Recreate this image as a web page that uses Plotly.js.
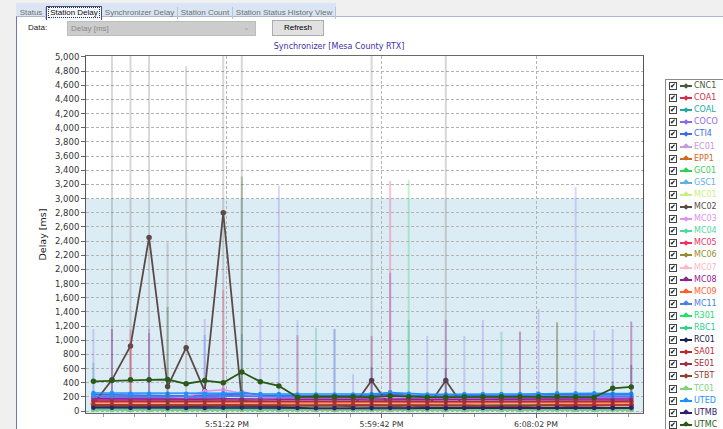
<!DOCTYPE html>
<html><head><meta charset="utf-8">
<script src="https://cdn.plot.ly/plotly-3.0.1.min.js"></script>
<style>
html,body{margin:0;padding:0;width:723px;height:429px;overflow:hidden;background:#f0f0f0;font-family:"Liberation Sans",Arial,sans-serif;}
#panel{position:absolute;left:16px;top:16px;width:707px;height:413px;background:#fff;border-left:1px solid #7474c4;border-top:1px solid #a9b6d6;box-sizing:border-box;}
#tabs{position:absolute;left:16px;top:3px;width:320px;height:13px;background:#dae5f3;}
.tab{position:absolute;top:4px;height:12px;line-height:12px;font-size:8px;color:#707070;text-align:center;box-sizing:border-box;border-right:1px solid #b8c4d8;white-space:nowrap;}
.tab.sel{color:#111;background:#f4f7fb;border:1px solid #4a4a8a;border-bottom:none;top:3px;height:14px;line-height:12px;}
.tab.sel span{outline:1px dotted #333;outline-offset:0px;padding:0 1px;}
#datalbl{position:absolute;left:28px;top:23px;font-size:8px;color:#222;}
#combo{position:absolute;left:67px;top:21px;width:189px;height:15px;background:#cccccc;border:1px solid #bdbdbd;box-sizing:border-box;font-size:8px;color:#8a8a8a;line-height:13px;padding-left:3px;}
#combo i{position:absolute;right:5px;top:-1px;font-style:normal;color:#a8a8a8;font-size:8px;}
#btn{position:absolute;left:272px;top:20px;width:52px;height:16px;background:#e1e1e1;border:1px solid #adadad;box-sizing:border-box;font-size:8px;color:#000;text-align:center;line-height:14px;}
#plot{position:absolute;left:0;top:0;width:723px;height:429px;}
#legend{position:absolute;left:665px;top:79px;width:70px;height:360px;background:#fff;border:1px solid #8a8a8a;box-sizing:border-box;overflow:hidden;}
.li{position:absolute;left:0;height:12px;width:70px;}
.cb{position:absolute;left:3px;top:2px;width:8px;height:8px;border:1px solid #444;box-sizing:border-box;background:#fff;font-family:"DejaVu Sans";font-size:7px;line-height:6px;color:#000;text-align:center;}
.ln{position:absolute;left:14px;top:5px;width:12px;height:2px;}
.mk{position:absolute;left:18px;top:3.5px;width:4px;height:4px;transform:rotate(45deg);}
.tx{position:absolute;left:28px;top:0;font-family:"DejaVu Sans";font-size:8px;line-height:12px;white-space:nowrap;}
</style>
</head><body>
<div id="panel"></div>
<div id="tabs"></div>
<div id="datalbl">Data:</div>
<div id="combo">Delay [ms]<i>&#8964;</i></div>
<div id="btn">Refresh</div>
<div id="plot"></div>
<div id="legend"></div>
<script>
// ---- UI text ----
const tabNames = ['Status','Station Delay','Synchronizer Delay','Station Count','Station Status History View'];
const chartTitle = 'Synchronizer [Mesa County RTX]';
const yTitle = 'Delay [ms]';
const warnLevel = 3000;

// ---- sample times (one per minute) ----
const times = ['2024-05-14 17:44:10','2024-05-14 17:45:10','2024-05-14 17:46:10','2024-05-14 17:47:10','2024-05-14 17:48:10',
 '2024-05-14 17:49:10','2024-05-14 17:50:10','2024-05-14 17:51:10','2024-05-14 17:52:10','2024-05-14 17:53:10',
 '2024-05-14 17:54:10','2024-05-14 17:55:10','2024-05-14 17:56:10','2024-05-14 17:57:10','2024-05-14 17:58:10',
 '2024-05-14 17:59:10','2024-05-14 18:00:10','2024-05-14 18:01:10','2024-05-14 18:02:10','2024-05-14 18:03:10',
 '2024-05-14 18:04:10','2024-05-14 18:05:10','2024-05-14 18:06:10','2024-05-14 18:07:10','2024-05-14 18:08:10',
 '2024-05-14 18:09:10','2024-05-14 18:10:10','2024-05-14 18:11:10','2024-05-14 18:12:10','2024-05-14 18:13:10'];

// ---- station names and colours (legend order) ----
const stations = ['CNC1','COA1','COAL','COCO','CTI4','EC01','EPP1','GC01','GSC1','MC01','MC02','MC03','MC04','MC05','MC06','MC07','MC08','MC09','MC11','R301','RBC1','RC01','SA01','SE01','STBT','TC01','UTED','UTMB','UTMC'];
const colors = ['#4a5a3a','#d0304a','#20a8a0','#8a6ae8','#3a6ee0','#c898e0','#d06820','#30d050','#60b0e0','#c8f080','#5a4a48','#e090f0','#50d8a0','#f03060','#909030','#ffb8c4','#902090','#ff6030','#4a80e8','#20e070','#30d090','#1a2050','#c02830','#a03040','#904030','#80d080','#1e90ff','#302070','#2a5a18'];

// ---- mean delay per minute [ms] ----
const vCNC1=[62,60,58,60,62,60,58,60,62,60,58,56,55,56,58,60,58,56,55,56,58,60,58,56,58,60,58,56,58,60];
const vCOA1=[98,96,95,97,95,94,96,98,97,95,93,92,94,95,93,96,98,95,93,92,94,95,96,94,95,97,96,94,95,96];
const vCOAL=[52,50,50,52,54,52,50,50,52,50,48,48,50,50,52,50,48,50,52,50,48,50,52,50,50,52,50,48,50,52];
const vCOCO=[192,190,188,190,185,186,190,200,270,215,195,190,188,186,188,200,265,205,190,188,190,192,194,195,196,198,200,196,195,196];
const vCTI4=[232,228,222,222,218,216,224,228,230,222,216,214,212,214,216,224,232,220,212,210,214,220,222,224,226,230,234,230,226,230];
const vEC01=[152,150,150,148,150,152,150,155,160,152,150,148,146,148,150,152,158,150,148,146,148,150,152,150,152,155,155,152,150,152];
const vEPP1=[118,116,115,116,114,112,115,118,120,116,114,112,112,114,113,115,118,116,112,110,112,114,115,114,115,116,114,112,108,110];
const vGC01=[24,22,22,23,22,20,22,24,25,22,21,20,20,21,22,22,24,22,20,20,21,22,22,21,22,23,22,20,21,22];
const vGSC1=[72,70,70,72,70,68,70,74,75,72,70,68,66,68,70,72,74,70,68,66,68,70,72,70,70,72,72,70,70,72];
const vMC01=[66,65,64,65,64,62,64,66,68,65,64,62,62,64,64,65,66,64,62,62,63,64,65,64,64,66,65,64,64,65];
const vMC02=[100,440,920,2450,345,895,280,2800,150,105,95,90,88,85,60,430,60,85,50,430,50,80,85,86,90,85,88,85,90,92];
const vMC03=[170,170,165,165,170,200,280,300,255,200,180,175,175,170,170,185,195,180,170,170,175,175,175,175,180,180,180,175,175,175];
const vMC04=[36,35,34,35,34,33,35,36,38,35,34,32,32,33,34,35,36,34,32,32,33,34,35,34,34,36,35,34,34,35];
const vMC05=[132,130,128,130,128,126,130,132,135,130,128,126,125,126,128,130,134,130,126,125,126,128,130,128,130,132,130,128,128,130];
const vMC06=[102,100,98,100,98,96,100,102,104,100,98,96,96,98,98,100,102,100,96,95,96,98,100,98,100,102,100,98,98,100];
const vMC07=[112,110,108,110,108,106,110,112,114,110,108,106,105,106,108,110,112,110,106,105,106,108,110,108,110,112,110,108,108,110];
const vMC08=[172,170,168,170,166,164,168,172,175,170,166,164,162,164,166,170,174,168,164,162,164,166,168,168,170,172,172,170,168,170];
const vMC09=[122,120,118,120,118,116,120,122,124,120,118,116,115,116,118,120,122,120,116,115,116,118,120,118,120,122,120,118,118,120];
const vMC11=[208,206,204,205,202,200,204,208,212,206,202,200,198,200,202,206,212,204,198,196,200,204,206,206,208,212,214,210,206,208];
const vR301=[18,17,16,17,16,15,17,18,19,17,16,15,15,16,16,17,18,16,15,15,16,16,17,16,17,18,17,16,16,17];
const vRBC1=[28,27,26,27,26,25,27,28,30,27,26,25,25,26,26,27,28,26,25,25,26,26,27,26,27,28,27,26,26,27];
const vRC01=[70,68,66,68,66,64,68,70,72,66,60,50,26,24,25,26,24,25,40,42,40,42,40,38,40,42,40,38,40,42];
const vSA01=[88,86,85,86,84,82,85,88,90,86,84,82,80,82,84,86,88,85,82,80,82,70,60,62,80,84,86,84,84,86];
const vSE01=[142,140,138,140,138,136,140,142,145,140,138,136,135,136,138,140,142,140,136,135,136,138,140,138,140,142,140,138,138,140];
const vSTBT=[78,76,75,76,74,72,75,78,80,76,74,72,72,74,74,76,78,75,72,70,72,74,75,74,75,76,60,50,48,50];
const vTC01=[15,14,14,15,14,13,14,15,16,14,14,13,13,14,14,15,16,14,13,13,14,14,15,14,14,15,15,14,14,15];
const vUTED=[255,255,245,245,245,245,245,250,250,240,240,235,235,235,235,240,260,245,235,235,240,240,240,240,245,250,250,250,245,245];
const vUTMB=[46,45,44,45,44,42,44,46,48,45,44,42,40,40,40,42,44,42,40,40,42,44,45,44,44,46,45,44,44,45];
const vUTMC=[420,430,440,440,445,385,430,400,550,415,355,195,205,200,200,195,215,200,195,195,200,200,200,200,200,205,200,195,320,340];

// ---- maximum delay per minute [ms] (null = no visible spike) ----
const n=null;
const hMC02=[n,5200,5200,5200,2380,4870,n,5200,5200,n,n,n,n,n,n,5200,n,n,n,5200,n,n,n,n,n,n,n,n,n,n];
const hUTMC=[n,n,n,n,1470,n,n,n,3310,n,n,n,n,n,n,n,n,n,n,n,n,n,n,n,n,n,n,n,n,n];
const hCOCO=[1160,1160,n,1160,n,n,1300,n,n,1300,3180,1285,n,1160,520,n,n,n,1060,n,1060,1285,n,1120,1440,n,3164,1144,1158,1264];
const hMC08=[n,1160,n,1100,n,n,n,n,n,n,n,n,n,n,n,1060,1953,n,n,1285,n,n,n,n,n,n,n,n,n,n];
const hMC05=[n,n,1150,n,n,n,n,1709,n,n,n,n,n,n,n,n,3250,n,n,n,n,n,n,n,n,n,n,n,n,n];
const hSE01=[n,n,925,n,n,n,n,n,n,n,n,1070,n,n,n,n,n,n,n,n,n,n,n,1120,n,1252,n,n,n,1264];
const hCOAL=[680,n,n,n,n,n,n,n,n,n,n,n,1177,n,n,n,n,1285,n,n,n,n,1120,n,n,n,n,n,n,n];
const hGC01=[n,n,n,n,n,n,n,n,n,n,n,n,n,n,n,n,n,3260,n,n,n,n,n,n,n,1252,n,n,n,n];
const hCTI4=[n,n,n,n,n,n,1074,n,1088,n,n,n,n,1158,n,n,n,n,n,n,n,n,n,n,n,n,n,n,n,n];
const hUTMB=[n,n,n,n,n,n,n,n,n,n,n,n,n,n,n,620,n,n,n,600,n,n,n,n,n,n,n,n,420,650];

const values={CNC1:vCNC1,COA1:vCOA1,COAL:vCOAL,COCO:vCOCO,CTI4:vCTI4,EC01:vEC01,EPP1:vEPP1,GC01:vGC01,GSC1:vGSC1,MC01:vMC01,MC02:vMC02,MC03:vMC03,MC04:vMC04,MC05:vMC05,MC06:vMC06,MC07:vMC07,MC08:vMC08,MC09:vMC09,MC11:vMC11,R301:vR301,RBC1:vRBC1,RC01:vRC01,SA01:vSA01,SE01:vSE01,STBT:vSTBT,TC01:vTC01,UTED:vUTED,UTMB:vUTMB,UTMC:vUTMC};
const highs={MC02:hMC02,UTMC:hUTMC,COCO:hCOCO,MC08:hMC08,MC05:hMC05,SE01:hSE01,COAL:hCOAL,GC01:hGC01,CTI4:hCTI4,UTMB:hUTMB};

function rgba(hex,a){const r=parseInt(hex.slice(1,3),16),g=parseInt(hex.slice(3,5),16),b=parseInt(hex.slice(5,7),16);return `rgba(${r},${g},${b},${a})`;}

// tabs
const tabPos=[[17,29],[46,56],[102,76],[178,55],[233,103]];
const tabsEl=document.getElementById('tabs');
tabNames.forEach((t,i)=>{const d=document.createElement('div');d.className='tab'+(i===1?' sel':'');d.style.left=(tabPos[i][0]-16)+'px';d.style.width=tabPos[i][1]+'px';d.innerHTML='<span>'+t+'</span>';tabsEl.appendChild(d);});

// traces
const traces=[];
stations.forEach((s,i)=>{
  const y=values[s];const hi=highs[s];
  const tr={x:times,y:y,type:'scatter',mode:'lines+markers',name:s,
    line:{color:colors[i],width:s==='UTMC'||s==='MC02'?1.8:1.6},
    marker:{color:colors[i],size:s==='UTMC'||s==='MC02'?5.5:4.5}};
  if(hi){
    tr.error_y={type:'data',symmetric:false,array:hi.map((h,k)=>h==null?0:h-y[k]),arrayminus:hi.map((h,k)=>h==null?0:y[k]),
      color:rgba(colors[i],s==='MC02'?0.22:0.28),thickness:2,width:0};
  }
  traces.push(tr);
});

const tick0='2024-05-14 17:51:22';
const layout={
  width:723,height:429,margin:{l:86,r:80,t:56,b:16,pad:0},
  paper_bgcolor:'rgba(0,0,0,0)',plot_bgcolor:'#ffffff',showlegend:false,
  title:{text:chartTitle,font:{family:'DejaVu Sans',size:8,color:'#4030a8'},x:0.469,xref:'container',xanchor:'center',y:1-46/429,yref:'container',yanchor:'middle'},
  xaxis:{type:'date',range:['2024-05-14 17:43:46','2024-05-14 18:13:48'],tick0:tick0,dtick:500000,tickformat:'%-I:%M:%S %p',
    ticks:'outside',ticklen:4,tickcolor:'#666',showgrid:true,gridcolor:'#b4b4b4',griddash:'3px,2px',gridwidth:1,
    showline:true,linecolor:'#6a6a6a',mirror:true,zeroline:false,tickfont:{family:'DejaVu Sans',size:7.8,color:'#333'},
    minor:{tick0:tick0,dtick:100000,ticks:'outside',ticklen:3,tickcolor:'#999',showgrid:false}},
  yaxis:{range:[-28,5014],tick0:0,dtick:200,tickformat:',d',ticks:'outside',ticklen:4,tickcolor:'#666',
    showgrid:true,gridcolor:'#b4b4b4',griddash:'3px,2px',gridwidth:1,showline:true,linecolor:'#555',mirror:true,zeroline:false,
    tickfont:{family:'DejaVu Sans',size:8.5,color:'#333'},
    title:{text:yTitle,font:{family:'DejaVu Sans',size:9.5,color:'#222'},standoff:6}},
  shapes:[{type:'rect',xref:'paper',x0:0,x1:1,yref:'y',y0:-28,y1:warnLevel,fillcolor:'#dcecf4',line:{width:0},layer:'below'}]
};
Plotly.newPlot('plot',traces,layout,{staticPlot:true,displayModeBar:false});

// legend
const lg=document.getElementById('legend');
stations.forEach((s,i)=>{
  const d=document.createElement('div');d.className='li';d.style.top=(12.1*i)+'px';
  d.innerHTML=`<div class="cb">&#10004;</div><div class="ln" style="background:${colors[i]}"></div><div class="mk" style="background:${colors[i]}"></div><div class="tx" style="color:${colors[i]}">${s}</div>`;
  lg.appendChild(d);
});
</script>
</body></html>
